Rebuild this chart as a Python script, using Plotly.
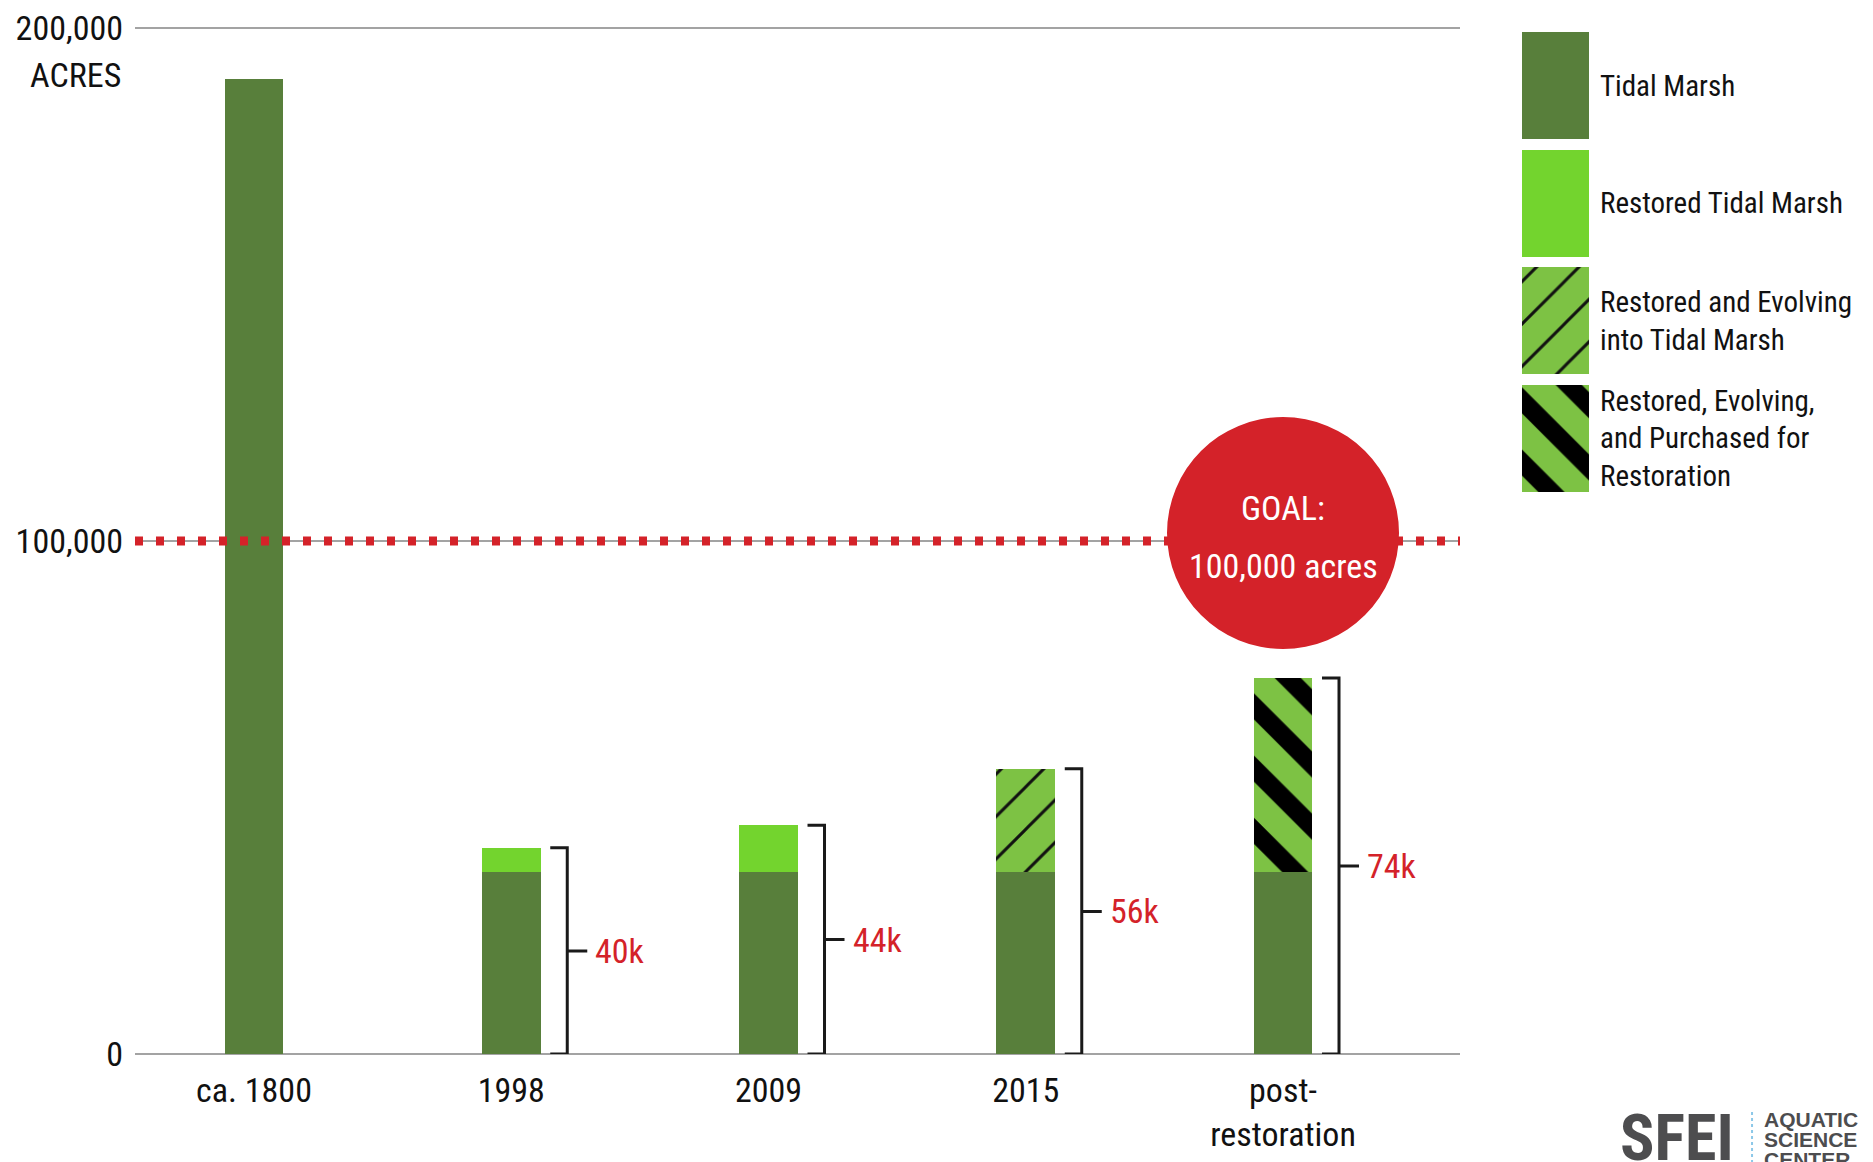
import plotly.graph_objects as go

# ---------------- data ----------------
categories = ["ca. 1800", "1998", "2009", "2015", "post-<br>restoration"]
series_names = [
    "Tidal Marsh",
    "Restored Tidal Marsh",
    "Restored and Evolving into Tidal Marsh",
    "Restored, Evolving, and Purchased for Restoration",
]
legend_labels = [
    "Tidal Marsh",
    "Restored Tidal Marsh",
    "Restored and Evolving<br>into Tidal Marsh",
    "Restored, Evolving,<br>and Purchased for<br>Restoration",
]
tidal_marsh = [190000, 35500, 35500, 35500, 35500]
restored_tidal_marsh = [None, 4700, 9100, None, None]
restored_evolving = [None, None, None, 20100, None]
restored_evolving_purchased = [None, None, None, None, 37800]
bracket_labels = ["", "40k", "44k", "56k", "74k"]
goal_value = 100000
goal_lines = ["GOAL:", "100,000 acres"]
y_tick_values = [0, 100000, 200000]
y_tick_labels = ["0", "100,000", "200,000"]
y_unit = "ACRES"
logo_main = "SFEI"
logo_side = ["AQUATIC", "SCIENCE", "CENTER"]

# ---------------- styles ----------------
FONT = "Roboto Condensed, Liberation Sans Narrow, Liberation Sans, sans-serif"
DARK = "#587f3b"
BRIGHT = "#73d42e"
HATCH_BG = "#7dc244"
RED = "#d42229"
GRID = "#a3a3a3"
TXT = 34

series_values = [tidal_marsh, restored_tidal_marsh, restored_evolving, restored_evolving_purchased]
series_colors = [DARK, BRIGHT, HATCH_BG, HATCH_BG]
series_patterns = [
    None,
    None,
    dict(shape="/", fgcolor="#111111", bgcolor=HATCH_BG, fgopacity=1, size=30, solidity=0.1, fillmode="overlay"),
    dict(shape="\\", fgcolor="#000000", bgcolor=HATCH_BG, fgopacity=1, size=44, solidity=0.42, fillmode="overlay"),
]

fig = go.Figure()

# main stacked bars
for name, vals, color, pat in zip(series_names, series_values, series_colors, series_patterns):
    marker = dict(color=color, line=dict(width=0))
    if pat:
        marker["pattern"] = pat
    fig.add_trace(go.Bar(
        x=categories, y=vals, name=name, marker=marker, width=0.229,
        xaxis="x", yaxis="y", showlegend=False, hoverinfo="skip",
    ))

# legend swatches drawn as bars on a small side axis
for name, lab, color, pat in zip(series_names, legend_labels, series_colors, series_patterns):
    marker = dict(color=color, line=dict(width=0))
    if pat:
        marker["pattern"] = pat
    fig.add_trace(go.Bar(
        y=[lab], x=[1], orientation="h", marker=marker, width=0.91,
        xaxis="x2", yaxis="y2", showlegend=False, hoverinfo="skip", name=name,
    ))

totals = [sum(v[i] for v in series_values if v[i] is not None) for i in range(len(categories))]

shapes = []
annotations = []

# red dotted goal line
shapes.append(dict(type="line", xref="x domain", yref="y", x0=0, x1=1, y0=goal_value, y1=goal_value,
                   line=dict(color=RED, width=9, dash="8px,13px"), layer="above"))
# goal circle
shapes.append(dict(type="circle", xref="x", yref="y", xsizemode="pixel", ysizemode="pixel",
                   xanchor=len(categories) - 1, yanchor=goal_value,
                   x0=-116, x1=116, y0=-108, y1=124,
                   fillcolor=RED, line=dict(width=0), layer="above"))
annotations.append(dict(xref="x", yref="y", x=len(categories) - 1, y=goal_value, yshift=33,
                        text=goal_lines[0], showarrow=False, font=dict(family=FONT, size=TXT, color="white")))
annotations.append(dict(xref="x", yref="y", x=len(categories) - 1, y=goal_value, yshift=-25,
                        text=goal_lines[1], showarrow=False, font=dict(family=FONT, size=TXT, color="white")))

# brackets and total labels
for i, lab in enumerate(bracket_labels):
    if not lab:
        continue
    t = totals[i]
    path = f"M 39,{t} L 56,{t} L 56,0 L 39,0 M 56,{t/2} L 76,{t/2}"
    shapes.append(dict(type="path", xref="x", yref="y", xsizemode="pixel", xanchor=i,
                       path=path, line=dict(color="#1a1a1a", width=3), layer="above"))
    annotations.append(dict(xref="x", yref="y", x=i, y=t / 2, xshift=82, xanchor="left", yanchor="middle",
                            text=lab, showarrow=False, font=dict(family=FONT, size=TXT, color=RED)))

# ACRES unit under the top tick
annotations.append(dict(xref="paper", yref="y", x=0, y=y_tick_values[-1], xshift=-12, yshift=-47,
                        xanchor="right", yanchor="middle", text=y_unit, showarrow=False,
                        font=dict(family=FONT, size=TXT, color="#111111")))

# logo
annotations.append(dict(xref="paper", yref="paper", x=0.8533, y=-0.0437, xanchor="left", yanchor="top",
                        text=f"<b>{logo_main}</b>", showarrow=False,
                        font=dict(family=FONT, size=64, color="#4d4d4f")))
for k, word in enumerate(logo_side):
    annotations.append(dict(xref="paper", yref="paper", x=0.9361, y=-0.0500 - 0.0194 * k,
                            xanchor="left", yanchor="top", text=f"<b>{word}</b>", showarrow=False,
                            font=dict(family="Liberation Sans, Arial, sans-serif", size=21, color="#4d4d4f")))
shapes.append(dict(type="line", xref="paper", yref="paper", x0=0.9304, x1=0.9304, y0=-0.0563, y1=-0.11,
                   line=dict(color="#8cc8e8", width=2, dash="dot")))

fig.update_layout(
    width=1865, height=1154,
    margin=dict(l=127, r=0, t=15, b=108),
    paper_bgcolor="white", plot_bgcolor="white",
    barmode="stack",
    font=dict(family=FONT, size=TXT, color="#111111"),
    xaxis=dict(domain=[0, 0.76237], type="category", categoryorder="array", categoryarray=categories,
               range=[-0.4626, 4.688], showgrid=False, zeroline=False, showline=False, ticks="",
               ticklabelstandoff=13,
               tickfont=dict(family=FONT, size=TXT, color="#111111"), anchor="y"),
    yaxis=dict(domain=[0, 1], range=[0, 201000], tickvals=y_tick_values, ticktext=y_tick_labels,
               showgrid=True, gridcolor=GRID, gridwidth=2, zeroline=True, zerolinecolor=GRID,
               zerolinewidth=2, showline=False, ticks="", ticklabelstandoff=11,
               tickfont=dict(family=FONT, size=TXT, color="#111111"), anchor="x"),
    xaxis2=dict(domain=[0.79804, 0.83659], range=[0, 1], visible=False, anchor="y2"),
    yaxis2=dict(domain=[0.5402, 0.9961], type="category", categoryorder="array", categoryarray=legend_labels,
                range=[3.5, -0.5], side="right", showgrid=False, zeroline=False, showline=False,
                ticks="", ticklabelstandoff=10, anchor="x2",
                tickfont=dict(family=FONT, size=29, color="#111111")),
    shapes=shapes,
    annotations=annotations,
)

fig.write_html("out.html")
